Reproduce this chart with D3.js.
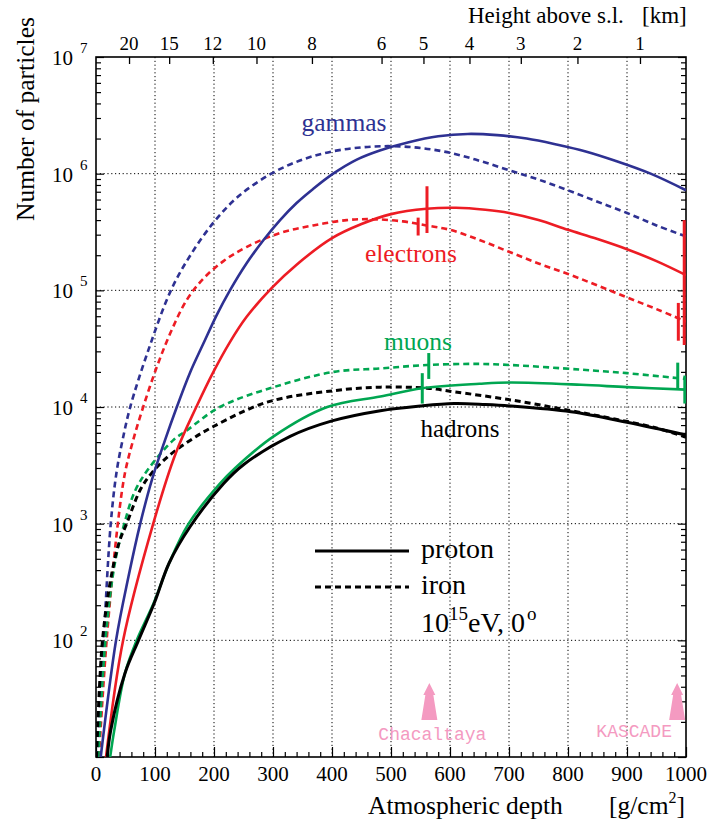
<!DOCTYPE html>
<html>
<head>
<meta charset="utf-8">
<script src="https://cdn.jsdelivr.net/npm/d3@7/dist/d3.min.js"></script>
<style>
  html, body { margin: 0; padding: 0; background: #fff; }
  svg { display: block; }
  text { font-family: "Liberation Serif", "Times New Roman", serif; fill: #000; }
  .mono { font-family: "Liberation Mono", "Courier New", monospace; }
</style>
</head>
<body>
<svg id="chart" width="712" height="829"></svg>
<script>
// Longitudinal development of air showers: number of particles vs. atmospheric depth
// Each point is [depth in g/cm^2, number of particles]

const gammaProton = [[8,1.0e1],[34,1.0e2],[55,3.5e2],[75,1.0e3],[95,2.4e3],[117,5.2e3],[137,1.0e4],[159,1.95e4],[182,3.5e4],[205,6.2e4],[227,1.0e5],[255,1.7e5],[284,2.7e5],[312,4.0e5],[340,5.6e5],[368,7.4e5],[402,1.0e6],[442,1.32e6],[481,1.58e6],[530,1.86e6],[580,2.09e6],[630,2.19e6],[680,2.14e6],[730,2.0e6],[780,1.78e6],[830,1.55e6],[880,1.29e6],[940,1.0e6],[1000,7.2e5]];
const gammaIron   = [[2,1.0e1],[13,1.0e2],[25,1.0e3],[35,2.8e3],[45,5.2e3],[58,1.0e4],[89,3.1e4],[127,1.0e5],[160,2.0e5],[199,3.8e5],[240,6.3e5],[297,1.0e6],[350,1.32e6],[400,1.55e6],[450,1.68e6],[500,1.72e6],[550,1.66e6],[600,1.51e6],[650,1.29e6],[700,1.07e6],[750,8.9e5],[800,7.2e5],[850,5.75e5],[900,4.6e5],[950,3.6e5],[1000,2.9e5]];
const electronProton = [[17,1.0e1],[46,1.0e2],[97,1.0e3],[135,4.0e3],[170,1.0e4],[199,2.0e4],[227,3.6e4],[255,5.9e4],[298,1.05e5],[340,1.66e5],[400,2.8e5],[450,3.7e5],[500,4.5e5],[560,5.0e5],[610,5.1e5],[660,4.9e5],[700,4.6e5],[750,4.0e5],[800,3.3e5],[850,2.75e5],[900,2.25e5],[950,1.78e5],[1000,1.35e5]];
const electronIron   = [[5,1.0e1],[18,1.0e2],[37,1.0e3],[49,2.7e3],[63,5.2e3],[80,1.0e4],[103,2.2e4],[126,4.3e4],[154,8.3e4],[182,1.26e5],[216,1.78e5],[255,2.35e5],[312,3.1e5],[368,3.6e5],[425,4.0e5],[470,4.07e5],[520,3.9e5],[560,3.6e5],[600,3.3e5],[650,2.7e5],[700,2.14e5],[750,1.7e5],[800,1.38e5],[850,1.1e5],[900,8.7e4],[950,6.9e4],[1000,5.4e4]];
const muonProton = [[24,1.0e1],[31,1.7e1],[49,5.2e1],[69,1.0e2],[98,2.1e2],[124,4.6e2],[157,1.0e3],[210,2.2e3],[236,3.0e3],[301,5.6e3],[392,1.0e4],[482,1.23e4],[553,1.45e4],[650,1.58e4],[703,1.62e4],[822,1.55e4],[900,1.48e4],[1000,1.41e4]];
const muonIron   = [[4,1.0e1],[16,1.0e2],[32,4.6e2],[48,1.0e3],[66,1.9e3],[90,3.0e3],[131,5.2e3],[154,6.3e3],[210,1.0e4],[301,1.48e4],[403,2.0e4],[482,2.14e4],[561,2.29e4],[650,2.34e4],[703,2.29e4],[822,2.09e4],[900,1.95e4],[1000,1.74e4]];
const hadronProton = [[19,1.0e1],[25,1.7e1],[49,5.2e1],[72,1.0e2],[99,2.1e2],[124,4.6e2],[160,9.5e2],[216,2.2e3],[250,3.2e3],[329,5.6e3],[400,7.6e3],[482,9.3e3],[550,1.02e4],[607,1.07e4],[660,1.05e4],[703,1.02e4],[805,9.1e3],[900,7.4e3],[1000,5.75e3]];
const hadronIron   = [[1,1.0e1],[11,1.0e2],[27,3.8e2],[40,7.1e2],[52,1.0e3],[75,1.95e3],[94,2.7e3],[123,3.8e3],[160,5.2e3],[199,6.8e3],[290,1.1e4],[403,1.38e4],[482,1.48e4],[561,1.45e4],[607,1.35e4],[703,1.15e4],[805,9.3e3],[879,7.9e3],[950,6.6e3],[1000,5.5e3]];

// Shower-to-shower fluctuations at observation levels: [depth, low, high]
const fluctElectronProton = [[561,3.1e5,7.8e5],[997,3.4e4,4.0e5]];
const fluctElectronIron   = [[546,2.95e5,4.2e5],[987,3.7e4,7.8e4]];
const fluctMuonProton     = [[553,1.07e4,1.95e4],[998,1.07e4,1.86e4]];
const fluctMuonIron       = [[564,1.74e4,2.9e4],[986,1.41e4,2.4e4]];

// Height above sea level [km] and the corresponding depth [g/cm^2]
const heightLabels = [20, 15, 12, 10, 8, 6, 5, 4, 3, 2, 1];
const heightDepths = [56, 124, 198, 272, 366, 484, 555, 633, 720, 816, 922];

const depthTicks = [0,100,200,300,400,500,600,700,800,900,1000];
const decadeExponents = [1,2,3,4,5,6,7];

// Experiment sites
const sites = [["Chacaltaya", 565], ["KASCADE", 985]];

const COL = { gamma: "#2e3192", electron: "#ed1c24", muon: "#00a651", hadron: "#000000", pink: "#f49ac1" };

const svg = d3.select("#chart");
const L = 96, R = 686, T = 57, B = 757;
const x = d3.scaleLinear().domain([0, 1000]).range([L, R]);
const y = d3.scaleLog().domain([10, 1e7]).range([B, T]);

// dotted grid
const grid = svg.append("g").attr("stroke", "#000").attr("stroke-width", 1).attr("stroke-dasharray", "1.2,2.6");
depthTicks.filter(d => d > 0 && d < 1000).forEach(d => {
  grid.append("line").attr("x1", x(d)).attr("x2", x(d)).attr("y1", T).attr("y2", B);
});
decadeExponents.filter(e => e > 1 && e < 7).forEach(e => {
  grid.append("line").attr("x1", L).attr("x2", R).attr("y1", y(Math.pow(10, e))).attr("y2", y(Math.pow(10, e)));
});

// axes with inward ticks
const xBottom = d3.axisBottom(x).tickValues(d3.range(0, 1001, 20)).tickSize(-5).tickFormat("");
svg.append("g").attr("transform", `translate(0,${B})`).call(xBottom)
  .call(g => g.select(".domain").remove())
  .call(g => g.selectAll(".tick line").attr("y2", d => d % 100 === 0 ? -10 : -5).attr("stroke-width", 1.2));

const yTickVals = [];
for (let e = 1; e < 7; e++) for (let m = 1; m < 10; m++) yTickVals.push(m * Math.pow(10, e));
yTickVals.push(1e7);
const isDecade = d => Math.abs(Math.log10(d) - Math.round(Math.log10(d))) < 1e-9;
const yLeft = d3.axisLeft(y).tickValues(yTickVals).tickSize(-5).tickFormat("");
svg.append("g").attr("transform", `translate(${L},0)`).call(yLeft)
  .call(g => g.select(".domain").remove())
  .call(g => g.selectAll(".tick line").attr("x2", d => isDecade(d) ? 8 : 5).attr("stroke-width", 1.2));
const yRight = d3.axisRight(y).tickValues(yTickVals).tickSize(-5).tickFormat("");
svg.append("g").attr("transform", `translate(${R},0)`).call(yRight)
  .call(g => g.select(".domain").remove())
  .call(g => g.selectAll(".tick line").attr("x2", d => isDecade(d) ? -8 : -5).attr("stroke-width", 1.2));

// top axis: height above sea level
const xTop = d3.axisTop(x).tickValues(heightDepths).tickSize(-7).tickFormat("");
svg.append("g").attr("transform", `translate(0,${T})`).call(xTop)
  .call(g => g.select(".domain").remove())
  .call(g => g.selectAll(".tick line").attr("stroke-width", 1.3));
svg.append("g").selectAll("text").data(heightLabels).join("text")
  .attr("x", (h, i) => x(heightDepths[i])).attr("y", 50)
  .attr("text-anchor", "middle").attr("font-size", 19).text(h => h);

// frame
svg.append("rect").attr("x", L).attr("y", T).attr("width", R - L).attr("height", B - T)
  .attr("fill", "none").attr("stroke", "#000").attr("stroke-width", 1.6);

// tick labels
svg.append("g").selectAll("text").data(depthTicks).join("text")
  .attr("x", d => x(d)).attr("y", 781).attr("text-anchor", "middle").attr("font-size", 21).text(d => d);

const yl = svg.append("g").selectAll("g").data(decadeExponents.filter(e => e > 1)).join("g")
  .attr("transform", e => `translate(0,${y(Math.pow(10, e))})`);
yl.append("text").attr("x", 73).attr("y", 8).attr("text-anchor", "end").attr("font-size", 21).text("10");
yl.append("text").attr("x", 80).attr("y", -4).attr("font-size", 15).text(e => e);

// axis titles
svg.append("text").attr("x", 368).attr("y", 814).attr("font-size", 25.5).text("Atmospheric depth");
const unit = svg.append("text").attr("x", 609).attr("y", 814).attr("font-size", 25.5);
unit.append("tspan").text("[g/cm");
unit.append("tspan").attr("font-size", 16).attr("dy", -11).text("2");
unit.append("tspan").attr("dy", 11).text("]");

svg.append("text").attr("x", 468).attr("y", 23).attr("font-size", 23).text("Height above s.l.");
svg.append("text").attr("x", 642).attr("y", 23).attr("font-size", 23).text("[km]");

svg.append("text").attr("transform", "translate(34,221) rotate(-90)").attr("font-size", 25.5).text("Number of particles");

// curves
const plot = svg.append("g");
svg.append("clipPath").attr("id", "plotclip").append("rect")
  .attr("x", L).attr("y", T).attr("width", R - L).attr("height", B - T);
plot.attr("clip-path", "url(#plotclip)");

const line = d3.line().x(p => x(p[0])).y(p => y(p[1])).curve(d3.curveCatmullRom.alpha(0.5));

const series = [
  { data: gammaIron, color: COL.gamma, dashed: true },
  { data: electronIron, color: COL.electron, dashed: true },
  { data: muonIron, color: COL.muon, dashed: true },
  { data: hadronIron, color: COL.hadron, dashed: true },
  { data: gammaProton, color: COL.gamma, dashed: false },
  { data: electronProton, color: COL.electron, dashed: false },
  { data: muonProton, color: COL.muon, dashed: false },
  { data: hadronProton, color: COL.hadron, dashed: false }
];
series.forEach(s => {
  plot.append("path").datum(s.data).attr("d", line)
    .attr("fill", "none").attr("stroke", s.color)
    .attr("stroke-width", s.color === COL.hadron ? 3 : 2.6)
    .attr("stroke-dasharray", s.dashed ? "6,4" : null);
});

// fluctuation bars
[[fluctElectronProton, COL.electron], [fluctElectronIron, COL.electron],
 [fluctMuonProton, COL.muon], [fluctMuonIron, COL.muon]].forEach(([bars, c]) => {
  plot.selectAll(null).data(bars).join("line")
    .attr("x1", b => x(b[0])).attr("x2", b => x(b[0]))
    .attr("y1", b => y(b[1])).attr("y2", b => y(b[2]))
    .attr("stroke", c).attr("stroke-width", 3);
});

// curve labels
svg.append("text").attr("x", 344).attr("y", 131).attr("text-anchor", "middle").attr("font-size", 25.5).style("fill", COL.gamma).text("gammas");
svg.append("text").attr("x", 411).attr("y", 262).attr("text-anchor", "middle").attr("font-size", 25.5).style("fill", COL.electron).text("electrons");
svg.append("text").attr("x", 418).attr("y", 350).attr("text-anchor", "middle").attr("font-size", 25.5).style("fill", COL.muon).text("muons");
svg.append("text").attr("x", 460).attr("y", 437).attr("text-anchor", "middle").attr("font-size", 25).text("hadrons");

// legend
const lg = svg.append("g");
lg.append("line").attr("x1", 315).attr("x2", 409).attr("y1", 551).attr("y2", 551).attr("stroke", "#000").attr("stroke-width", 3);
lg.append("line").attr("x1", 315).attr("x2", 409).attr("y1", 587).attr("y2", 587).attr("stroke", "#000").attr("stroke-width", 3).attr("stroke-dasharray", "6,4");
lg.append("text").attr("x", 421).attr("y", 558).attr("font-size", 28).text("proton");
lg.append("text").attr("x", 421).attr("y", 594).attr("font-size", 28).text("iron");
const en = lg.append("text").attr("x", 421).attr("y", 632).attr("font-size", 28);
en.append("tspan").text("10");
en.append("tspan").attr("font-size", 19).attr("dy", -12).text("15");
en.append("tspan").attr("dy", 12).text("eV, 0");
en.append("tspan").attr("font-size", 19).attr("dy", -12).attr("dx", 2).text("o");

// observation levels
const arrowPath = "M0,-37 L-6,-25 L-4,-25 L-8,0 L8,0 L4,-25 L6,-25 Z";
const site = svg.append("g").selectAll("g").data(sites).join("g")
  .attr("transform", s => `translate(${x(s[1])},720)`);
site.append("path").attr("d", arrowPath).attr("fill", COL.pink);
site.append("text").attr("class", "mono").attr("x", (s, i) => i === 0 ? 3 : -43).attr("y", (s, i) => i === 0 ? 20 : 17)
  .attr("text-anchor", "middle").attr("font-size", 18).style("fill", COL.pink).text(s => s[0]);
</script>
</body>
</html>
